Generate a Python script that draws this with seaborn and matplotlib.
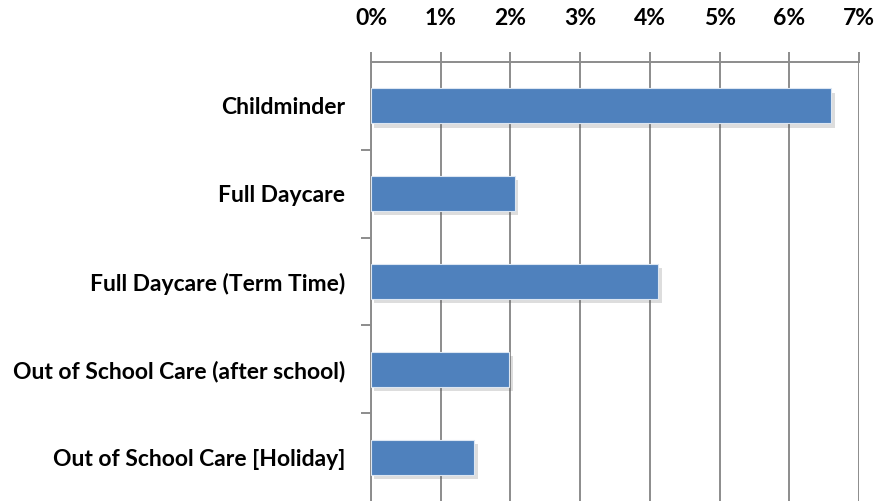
import matplotlib
matplotlib.use("Agg")
import matplotlib.pyplot as plt
import matplotlib.patheffects as pe
from matplotlib.ticker import PercentFormatter, FixedLocator
import seaborn as sns
import pandas as pd

categories = ["Childminder", "Full Daycare", "Full Daycare (Term Time)",
              "Out of School Care (after school)", "Out of School Care [Holiday]"]
values = [6.60, 2.06, 4.12, 1.98, 1.48]
xticks = [0, 1, 2, 3, 4, 5, 6, 7]

df = pd.DataFrame({"category": categories, "value": values})

sns.set_theme(style="white")
plt.rcParams['font.family'] = ['Lato', 'DejaVu Sans']

fig = plt.figure(figsize=(8.77, 5.01), dpi=100)
ax = fig.add_axes([371/877, 0.0, (859-371)/877, 1 - 62/501])

sns.barplot(data=df, x="value", y="category", orient="h", color="#4F81BD",
            width=0.4, saturation=1, edgecolor="#DCE6F2", linewidth=0.8, ax=ax,
            zorder=3)
for p in ax.patches:
    p.set_path_effects([pe.SimplePatchShadow(offset=(2.5, -3), alpha=0.2, shadow_rgbFace="#555555"),
                        pe.Normal()])

ax.set_xlim(0, 7)
ax.set_ylim(4.5, -0.5)
ax.xaxis.set_major_locator(FixedLocator(xticks))
ax.xaxis.set_major_formatter(PercentFormatter(decimals=0))
ax.xaxis.tick_top()
ax.xaxis.set_label_position("top")
ax.set_xlabel("")
ax.set_ylabel("")
ax.grid(axis="x", color="#8C8C8C", linewidth=1.4, zorder=0)
ax.set_axisbelow(True)

for s in ["right", "bottom"]:
    ax.spines[s].set_visible(False)
for s in ["left", "top"]:
    ax.spines[s].set_color("#8C8C8C")
    ax.spines[s].set_linewidth(1.4)

ax.tick_params(axis="x", which="major", direction="out", length=7, width=1.4,
               color="#8C8C8C", top=True, bottom=False, labeltop=True, labelbottom=False,
               labelsize=16.5, pad=17)
for lbl in ax.get_xticklabels():
    lbl.set_fontweight("bold")
    lbl.set_color("#000000")

ax.yaxis.set_minor_locator(FixedLocator([0.5, 1.5, 2.5, 3.5]))
ax.tick_params(axis="y", which="major", length=0, labelsize=16.5, pad=18.5)
ax.tick_params(axis="y", which="minor", direction="out", length=7, width=1.4,
               color="#8C8C8C", left=True)
for lbl in ax.get_yticklabels():
    lbl.set_fontweight("bold")
    lbl.set_color("#000000")

fig.savefig("out.png", dpi=100)
